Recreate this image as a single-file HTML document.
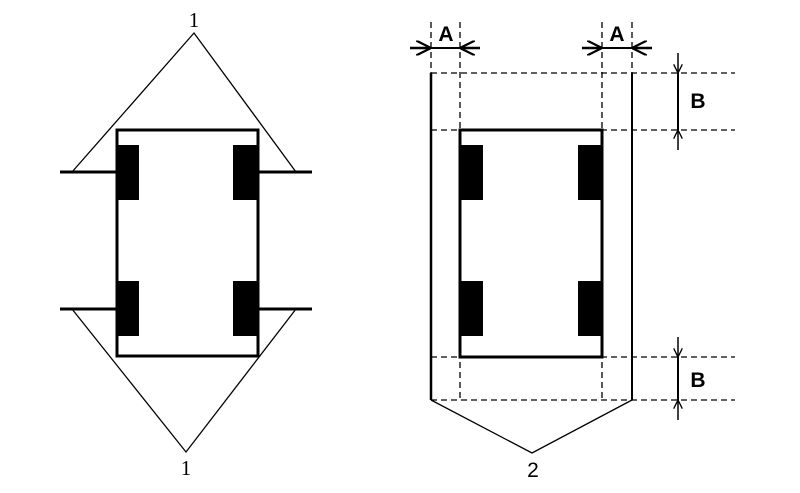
<!DOCTYPE html>
<html><head><style>html,body{margin:0;background:#fff}svg{display:block}</style></head><body>
<svg width="800" height="493" viewBox="0 0 800 493" xmlns="http://www.w3.org/2000/svg">
<defs>
<marker id="ar" viewBox="0 0 10 10" refX="10" refY="5" markerWidth="6" markerHeight="6" orient="auto"><path d="M0,0 L10,5 L0,10" fill="none" stroke="#000" stroke-width="1.5"/></marker>
</defs>
<g stroke="#000" fill="none">
<rect x="117" y="130" width="141" height="226" stroke-width="3"/>
<polyline points="72,172 194,33 296,172" stroke-width="1.3"/>
<polyline points="72,309 186,452 296,309" stroke-width="1.3"/>
<line x1="60" y1="172" x2="117" y2="172" stroke-width="3"/>
<line x1="258" y1="172" x2="312" y2="172" stroke-width="3"/>
<line x1="60" y1="309" x2="117" y2="309" stroke-width="3"/>
<line x1="258" y1="309" x2="312" y2="309" stroke-width="3"/>
</g>
<g fill="#000">
<rect x="116" y="145" width="23" height="55"/>
<rect x="233" y="145" width="25" height="55"/>
<rect x="116" y="281" width="23" height="55"/>
<rect x="233" y="281" width="25" height="55"/>
</g>
<g stroke="#000" fill="none" stroke-width="1.3" stroke-dasharray="6,4">
<line x1="431" y1="73" x2="735" y2="73"/>
<line x1="431" y1="130" x2="735" y2="130"/>
<line x1="431" y1="357" x2="735" y2="357"/>
<line x1="431" y1="400" x2="735" y2="400"/>
<line x1="431" y1="22" x2="431" y2="73"/>
<line x1="460" y1="22" x2="460" y2="400"/>
<line x1="602" y1="22" x2="602" y2="400"/>
<line x1="632" y1="22" x2="632" y2="73"/>
</g>
<g stroke="#000" fill="none">
<rect x="460" y="130" width="142" height="227" stroke-width="3"/>
<line x1="431" y1="73" x2="431" y2="400" stroke-width="2.5"/>
<line x1="632" y1="73" x2="632" y2="400" stroke-width="2"/>
<polyline points="431,400 532,453 632,400" stroke-width="1.3"/>
<line x1="410" y1="48" x2="431" y2="48" stroke-width="2.5" marker-end="url(#ar)"/>
<line x1="431" y1="48" x2="460" y2="48" stroke-width="2"/>
<line x1="480" y1="48" x2="460" y2="48" stroke-width="2.5" marker-end="url(#ar)"/>
<line x1="582" y1="48" x2="602" y2="48" stroke-width="2.5" marker-end="url(#ar)"/>
<line x1="602" y1="48" x2="632" y2="48" stroke-width="2"/>
<line x1="652" y1="48" x2="632" y2="48" stroke-width="2.5" marker-end="url(#ar)"/>
<line x1="678" y1="53" x2="678" y2="73" stroke-width="1.5" marker-end="url(#ar)"/>
<line x1="678" y1="73" x2="678" y2="130" stroke-width="2"/>
<line x1="678" y1="150" x2="678" y2="130" stroke-width="1.5" marker-end="url(#ar)"/>
<line x1="678" y1="337" x2="678" y2="357" stroke-width="1.5" marker-end="url(#ar)"/>
<line x1="678" y1="357" x2="678" y2="400" stroke-width="2"/>
<line x1="678" y1="420" x2="678" y2="400" stroke-width="1.5" marker-end="url(#ar)"/>
</g>
<g fill="#000">
<rect x="460" y="145" width="23" height="55"/>
<rect x="578" y="145" width="24" height="55"/>
<rect x="460" y="281" width="23" height="55"/>
<rect x="578" y="281" width="24" height="55"/>
</g>
<g font-family="Liberation Sans, sans-serif" font-size="21" text-anchor="middle" fill="#000">
<text x="194" y="27" font-family="Liberation Serif, serif">1</text>
<text x="186" y="475" font-family="Liberation Serif, serif">1</text>
<text x="533" y="477">2</text>
<text x="446" y="41" font-weight="bold">A</text>
<text x="617" y="41" font-weight="bold">A</text>
<text x="698" y="108" font-weight="bold">B</text>
<text x="698" y="387" font-weight="bold">B</text>
</g>
</svg>
</body></html>
